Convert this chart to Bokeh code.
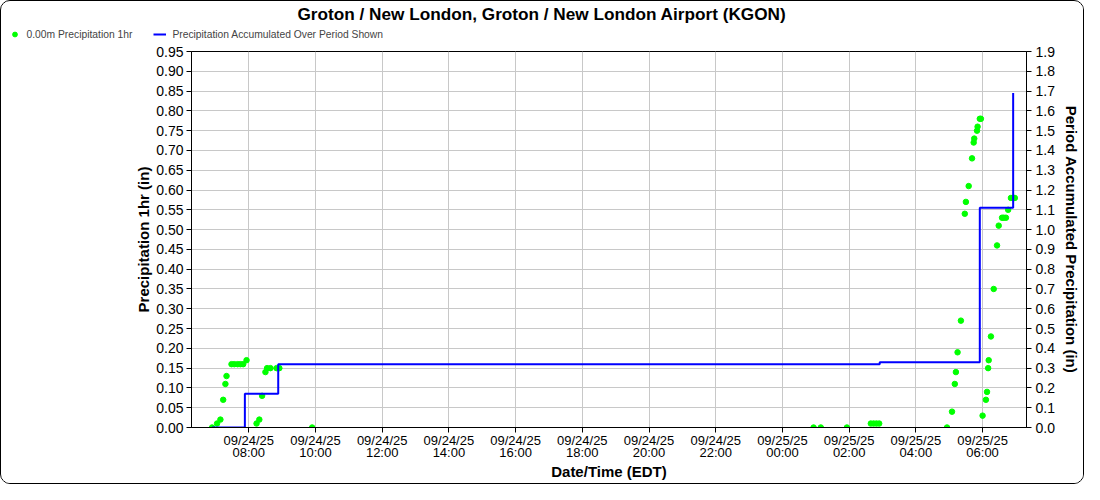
import pandas as pd
import numpy as np
from bokeh.plotting import figure
from bokeh.layouts import column
from bokeh.models import (Range1d, LinearAxis, FixedTicker, DatetimeTickFormatter,
                          PrintfTickFormatter, Legend, LegendItem, ColumnDataSource)
from bokeh.embed import file_html
from bokeh.resources import INLINE

# ---------------- data ----------------
precip_times = [
    "2025-09-24 06:54", "2025-09-24 07:03", "2025-09-24 07:09", "2025-09-24 07:14",
    "2025-09-24 07:18", "2025-09-24 07:20", "2025-09-24 07:29", "2025-09-24 07:34",
    "2025-09-24 07:40", "2025-09-24 07:45", "2025-09-24 07:50", "2025-09-24 07:56",
    "2025-09-24 08:14", "2025-09-24 08:19", "2025-09-24 08:24", "2025-09-24 08:30",
    "2025-09-24 08:33", "2025-09-24 08:39", "2025-09-24 08:50", "2025-09-24 08:55",
    "2025-09-24 09:54",
    "2025-09-25 00:56", "2025-09-25 01:09", "2025-09-25 01:56",
    "2025-09-25 02:39", "2025-09-25 02:44", "2025-09-25 02:49", "2025-09-25 02:54",
    "2025-09-25 04:56", "2025-09-25 05:05", "2025-09-25 05:10", "2025-09-25 05:12",
    "2025-09-25 05:15", "2025-09-25 05:21", "2025-09-25 05:28", "2025-09-25 05:30",
    "2025-09-25 05:35", "2025-09-25 05:41", "2025-09-25 05:44", "2025-09-25 05:45",
    "2025-09-25 05:50", "2025-09-25 05:51", "2025-09-25 05:55", "2025-09-25 05:57",
    "2025-09-25 06:00", "2025-09-25 06:06", "2025-09-25 06:08", "2025-09-25 06:10",
    "2025-09-25 06:11", "2025-09-25 06:15", "2025-09-25 06:20", "2025-09-25 06:26",
    "2025-09-25 06:29", "2025-09-25 06:35", "2025-09-25 06:38", "2025-09-25 06:42",
    "2025-09-25 06:46", "2025-09-25 06:51", "2025-09-25 06:55", "2025-09-25 06:58",
]
precip_1hr = [
    0.00, 0.01, 0.02, 0.07,
    0.11, 0.13, 0.16, 0.16,
    0.16, 0.16, 0.16, 0.17,
    0.01, 0.02, 0.08, 0.14,
    0.15, 0.15, 0.15, 0.15,
    0.00,
    0.00, 0.00, 0.00,
    0.01, 0.01, 0.01, 0.01,
    0.00, 0.04, 0.11, 0.14,
    0.19, 0.27, 0.54, 0.57,
    0.61, 0.68, 0.72, 0.73,
    0.75, 0.76, 0.78, 0.78,
    0.03, 0.07, 0.09, 0.15,
    0.17, 0.23, 0.35, 0.46,
    0.51, 0.53, 0.53, 0.53,
    0.55, 0.58, 0.58, 0.58,
]
accum_times = ["2025-09-24 06:54", "2025-09-24 07:53", "2025-09-24 08:53",
               "2025-09-25 02:55", "2025-09-25 05:55", "2025-09-25 06:55"]
accum_values = [0.00, 0.17, 0.32, 0.33, 1.11, 1.69]

x_start, x_end = "2025-09-24 06:17", "2025-09-25 07:19"
x_tick_times = pd.date_range("2025-09-24 08:00", "2025-09-25 06:00", freq="2h")
left_ticks = [round(v, 2) for v in np.arange(0, 0.951, 0.05)]
right_ticks = [round(v, 1) for v in np.arange(0, 1.901, 0.1)]

title_text = "Groton / New London, Groton / New London Airport (KGON)"
legend_precip = "0.00m Precipitation 1hr"
legend_accum = "Precipitation Accumulated Over Period Shown"
FONT = "Liberation Sans"
GREEN, BLUE = "#00ff00", "#0000ff"

src_p = ColumnDataSource(dict(t=pd.to_datetime(precip_times), v=precip_1hr))
src_a = ColumnDataSource(dict(t=pd.to_datetime(accum_times), v=accum_values))

W = 1082  # inner width (1px rounded border around the whole chart)

# ---------------- header figure: title + legend ----------------
top = figure(width=W, height=41, output_backend="svg", toolbar_location=None,
             x_range=Range1d(0, 1), y_range=Range1d(0, 1),
             x_axis_location=None, y_axis_location=None,
             min_border_left=0, min_border_right=0, min_border_top=0, min_border_bottom=0)
top.grid.visible = False
top.outline_line_color = None
top.background_fill_color = "white"
top.border_fill_color = "white"
top.title.text = title_text
top.title.text_font = FONT
top.title.text_font_size = "17.2px"
top.title.text_font_style = "bold"
top.title.text_color = "black"
top.title.align = "left"
top.title.offset = 296
top.title.standoff = 0

# the same series, drawn in the header only to key the legend (out of its view)
key_pts = top.scatter("t", "v", source=src_p, fill_color=GREEN, line_color=GREEN)
key_acc = top.step("t", "v", source=src_a, mode="after", line_color=BLUE, line_width=2)
legend = Legend(items=[LegendItem(label=legend_precip, renderers=[key_pts]),
                       LegendItem(label=legend_accum, renderers=[key_acc])],
                orientation="horizontal", location=(6.5, 2),
                label_text_font=FONT, label_text_font_size="10.3px",
                glyph_width=13, glyph_height=12, label_height=12,
                label_standoff=6, spacing=21, padding=0, margin=0,
                border_line_color=None, background_fill_alpha=0)
top.add_layout(legend, "center")

# ---------------- main chart ----------------
p = figure(width=W, height=441, output_backend="svg", toolbar_location=None,
           x_axis_type="datetime",
           x_range=Range1d(pd.Timestamp(x_start), pd.Timestamp(x_end)),
           y_range=Range1d(0, 0.95),
           min_border_left=190, min_border_right=57,
           min_border_top=9, min_border_bottom=53)
p.extra_y_ranges = {"acc": Range1d(0, 1.9)}
p.background_fill_color = "white"
p.border_fill_color = "white"
p.outline_line_color = "black"
p.outline_line_width = 1

r_pts = p.scatter("t", "v", source=src_p, size=5.5, fill_color=GREEN, line_color=GREEN)
r_acc = p.step("t", "v", source=src_a, mode="after", line_color=BLUE,
               line_width=2, y_range_name="acc")

xax = p.xaxis[0]
xax.ticker = FixedTicker(ticks=[t.timestamp() * 1000 for t in x_tick_times])
fmt = "%m/%d/%y\n%H:%M"
xax.formatter = DatetimeTickFormatter(microseconds=fmt, milliseconds=fmt, seconds=fmt,
                                      minsec=fmt, minutes=fmt, hourmin=fmt, hours=fmt,
                                      days=fmt, months=fmt, years=fmt)
xax.axis_label = "Date/Time (EDT)"

yax = p.yaxis[0]
yax.ticker = FixedTicker(ticks=left_ticks)
yax.formatter = PrintfTickFormatter(format="%.2f")
yax.axis_label = "Precipitation 1hr (in)"

rax = LinearAxis(y_range_name="acc", ticker=FixedTicker(ticks=right_ticks),
                 formatter=PrintfTickFormatter(format="%.1f"),
                 axis_label="Period Accumulated Precipitation (in)")
p.add_layout(rax, "right")

for ax, size in [(xax, "13px"), (yax, "14px"), (rax, "14px")]:
    ax.axis_line_color = "black"
    ax.major_tick_line_color = "black"
    ax.minor_tick_line_color = None
    ax.major_tick_in = 0
    ax.major_tick_out = 5
    ax.major_label_standoff = 3
    ax.major_label_text_font = FONT
    ax.major_label_text_font_size = size
    ax.major_label_text_color = "black"
    ax.axis_label_text_font = FONT
    ax.axis_label_text_font_size = "15px"
    ax.axis_label_text_font_style = "bold"
    ax.axis_label_text_color = "black"
    ax.axis_label_standoff = 5
yax.axis_label_standoff = 1
rax.major_label_standoff = 4
xax.major_label_standoff = 0
xax.major_label_text_line_height = 0.85
xax.axis_label_standoff = 0

p.xgrid.grid_line_color = "#c8c8c8"
p.ygrid.grid_line_color = "#c8c8c8"

# let the header keep its own full-width frame
for fig in (top, p):
    if hasattr(fig, "frame_align"):
        fig.frame_align = False

layout = column(top, p, spacing=0)
layout.styles = {"border": "1px solid #000", "border-radius": "10px",
                 "overflow": "hidden", "background-color": "white"}
open("out.html", "w").write(file_html(layout, INLINE))
